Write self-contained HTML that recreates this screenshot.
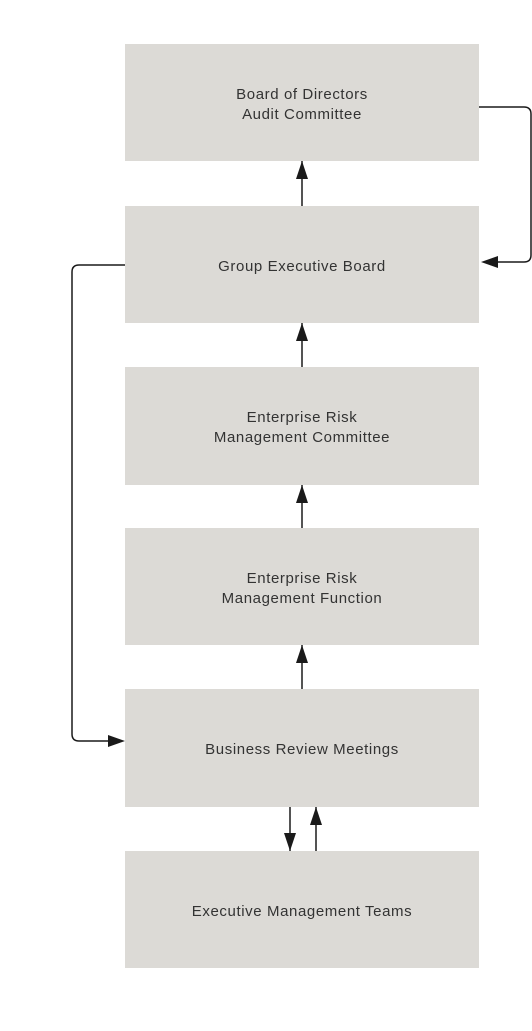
<!DOCTYPE html>
<html><head><style>
body{margin:0;width:532px;height:1031px;background:#fff;position:relative;font-family:"Liberation Sans",sans-serif;}
.b{position:absolute;left:125px;width:354px;background:#dcdad6;display:flex;align-items:center;justify-content:center;text-align:center;font-size:15px;letter-spacing:0.6px;line-height:20px;color:#333;box-sizing:border-box;padding-top:4px;}
svg{position:absolute;left:0;top:0;}
</style></head><body>
<div class="b" style="top:44px;height:117px">Board of Directors<br>Audit Committee</div>
<div class="b" style="top:206px;height:117px">Group Executive Board</div>
<div class="b" style="top:367px;height:118px">Enterprise Risk<br>Management Committee</div>
<div class="b" style="top:528px;height:117px">Enterprise Risk<br>Management Function</div>
<div class="b" style="top:689px;height:118px">Business Review Meetings</div>
<div class="b" style="top:851px;height:117px">Executive Management Teams</div>
<svg width="532" height="1031" fill="none" stroke="#1a1a1a" stroke-width="1.5">
<g fill="#1a1a1a" stroke="none">
<path d="M302 161 L302 206" stroke="#1a1a1a" stroke-width="1.5"/><path d="M296 179 L302 161 L308 179Z"/>
<path d="M302 323 L302 367" stroke="#1a1a1a" stroke-width="1.5"/><path d="M296 341 L302 323 L308 341Z"/>
<path d="M302 485 L302 528" stroke="#1a1a1a" stroke-width="1.5"/><path d="M296 503 L302 485 L308 503Z"/>
<path d="M302 645 L302 689" stroke="#1a1a1a" stroke-width="1.5"/><path d="M296 663 L302 645 L308 663Z"/>
<path d="M290 807 L290 851" stroke="#1a1a1a" stroke-width="1.5"/><path d="M284 833 L290 851 L296 833Z"/>
<path d="M316 807 L316 851" stroke="#1a1a1a" stroke-width="1.5"/><path d="M310 825 L316 807 L322 825Z"/>
<path d="M481 262 L498 256 L498 268Z"/>
<path d="M125 741 L108 735 L108 747Z"/>
</g>
<path d="M479 107 L524 107 Q531 107 531 114 L531 255 Q531 262 524 262 L497 262"/>
<path d="M125 265 L79 265 Q72 265 72 272 L72 734 Q72 741 79 741 L110 741"/>
</svg>
</body></html>
